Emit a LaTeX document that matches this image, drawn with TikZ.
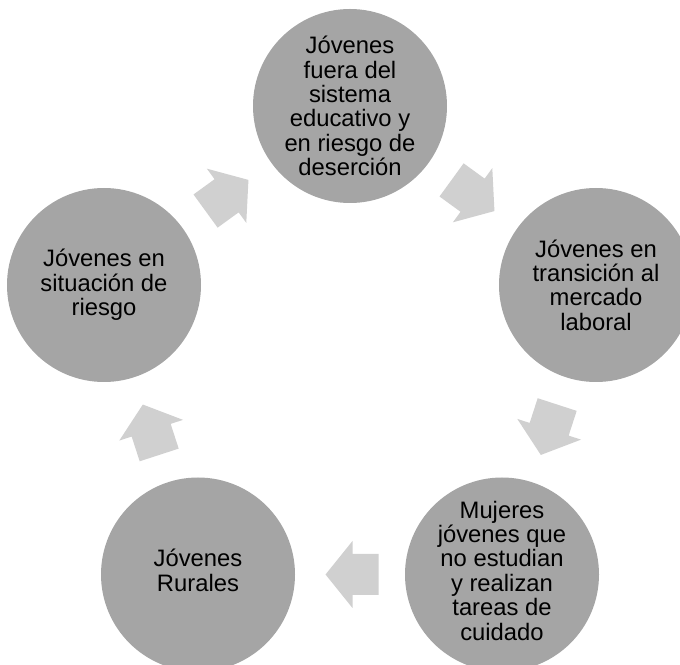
\documentclass[tikz,border=0pt]{standalone}
\usepackage{fontspec}
\setmainfont{Liberation Sans}
\usetikzlibrary{calc}
\definecolor{bubblegray}{HTML}{A5A5A5}
\definecolor{arrowgray}{HTML}{D0D0D0}
\tikzset{
  bubble/.style={circle, fill=bubblegray, minimum size=194pt, inner sep=0pt, outer sep=0pt},
  bubbletext/.style={align=center, font=\fontsize{23.8pt}{24.4pt}\selectfont, text=black, inner sep=0pt},
  blockarrow/.pic={
    \fill[arrowgray] (-26.5,-20.5) -- (-0.5,-20.5) -- (-0.5,-33.5) -- (26.5,0)
      -- (-0.5,33.5) -- (-0.5,20.5) -- (-26.5,20.5) -- cycle;
  }
}
\begin{document}
\begin{tikzpicture}[x=1pt,y=1pt]
\useasboundingbox (0,0) rectangle (680,664);
\clip (0,0) rectangle (680,664);
% circles
\node[bubble] (c1) at (350,558) {};
\node[bubble] (c2) at (596,379) {};
\node[bubble] (c3) at (502,89.5) {};
\node[bubble] (c4) at (198,89.5) {};
\node[bubble] (c5) at (104,379) {};
% texts
\node[bubbletext] (t1) at (c1) {Jóvenes\\fuera del\\sistema\\educativo y\\en riesgo de\\deserción};
\node[bubbletext] (t2) at (c2) {Jóvenes en\\transición al\\mercado\\laboral};
\node[bubbletext] (t3) at ($(c3)+(0,4)$) {Mujeres\\jóvenes que\\no estudian\\y realizan\\tareas de\\cuidado};
\node[bubbletext] (t4) at ($(c4)+(0,4)$) {Jóvenes\\Rurales};
\node[bubbletext] (t5) at (c5) {Jóvenes en\\situación de\\riesgo};
% block arrows
\coordinate (m12) at ($(c1)!0.5!(c2)$);
\coordinate (m23) at ($(c2)!0.5!(c3)$);
\coordinate (m34) at ($(c3)!0.5!(c4)$);
\coordinate (m45) at ($(c4)!0.5!(c5)$);
\coordinate (m51) at ($(c5)!0.5!(c1)$);
\pic[rotate=-36] (a1) at (m12) {blockarrow};
\pic[rotate=-108] (a2) at (m23) {blockarrow};
\pic[rotate=180] (a3) at ($(m34)+(2,0)$) {blockarrow};
\pic[rotate=108] (a4) at (m45) {blockarrow};
\pic[rotate=36] (a5) at (m51) {blockarrow};
\end{tikzpicture}
\end{document}
